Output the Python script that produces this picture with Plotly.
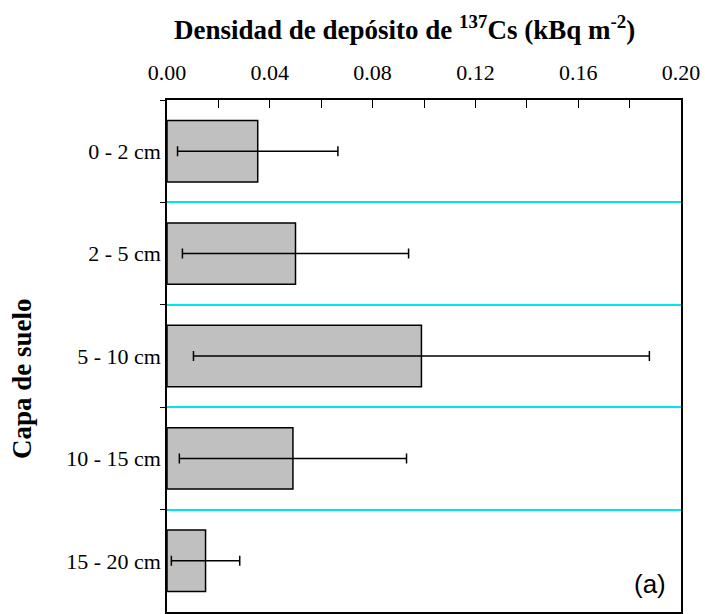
import plotly.graph_objects as go

categories = ["0 - 2 cm", "2 - 5 cm", "5 - 10 cm", "10 - 15 cm", "15 - 20 cm"]
values = [0.0353, 0.0500, 0.0990, 0.0490, 0.0150]
errors = [0.0312, 0.0440, 0.0887, 0.0442, 0.0133]
x_ticks = [0.00, 0.04, 0.08, 0.12, 0.16, 0.20]
x_ticktext = ["0.00", "0.04", "0.08", "0.12", "0.16", "0.20"]

serif = "Liberation Serif, Times New Roman, serif"

fig = go.Figure(go.Bar(
    x=values, y=categories, orientation="h",
    width=0.6,
    marker=dict(color="#c0c0c0", line=dict(color="black", width=1.5)),
    error_x=dict(type="data", array=errors, visible=True, color="black", thickness=1.5, width=5),
))

fig.update_layout(
    width=705, height=614,
    margin=dict(l=167, r=24, t=100, b=0),
    plot_bgcolor="white", paper_bgcolor="white",
    showlegend=False,
    font=dict(family=serif, size=22, color="black"),
    xaxis=dict(
        side="top", range=[0, 0.2], tickvals=x_ticks, ticktext=x_ticktext,
        ticks="inside", ticklen=8, tickcolor="black", tickwidth=1,
        minor=dict(dtick=0.02, ticks="inside", ticklen=8, tickcolor="black", showgrid=False),
        showline=True, linecolor="black", linewidth=1.5, mirror=True,
        showgrid=False, zeroline=False,
        ticklabelstandoff=9,
        tickfont=dict(family=serif, size=22),
    ),
    yaxis=dict(
        type="category", autorange="reversed", tickson="boundaries",
        ticks="outside", ticklen=5, tickcolor="black",
        showline=True, linecolor="black", linewidth=1.5, mirror=True,
        showgrid=True, gridcolor="#00e5ee", gridwidth=2,
        tickfont=dict(family=serif, size=22),
    ),
    annotations=[
        dict(text="<b>Densidad de depósito de <sup>137</sup>Cs (kBq m<sup>-2</sup>)</b>",
             xref="paper", yref="paper", x=0.462, y=1.140, xanchor="center", yanchor="middle",
             showarrow=False, font=dict(family=serif, size=27)),
        dict(text="<b>Capa de suelo</b>", textangle=-90,
             xref="paper", yref="paper", x=-0.282, y=0.455, xanchor="center", yanchor="middle",
             showarrow=False, font=dict(family=serif, size=27)),
        dict(text="(a)", xref="paper", yref="paper", x=0.94, y=0.0545,
             xanchor="center", yanchor="middle", showarrow=False,
             font=dict(family="Liberation Sans, Arial, sans-serif", size=26)),
    ],
)

fig.write_html(
    "out.html",
    config={"displayModeBar": False},
    post_script="document.body.style.margin='0';document.body.style.overflow='hidden';",
)
